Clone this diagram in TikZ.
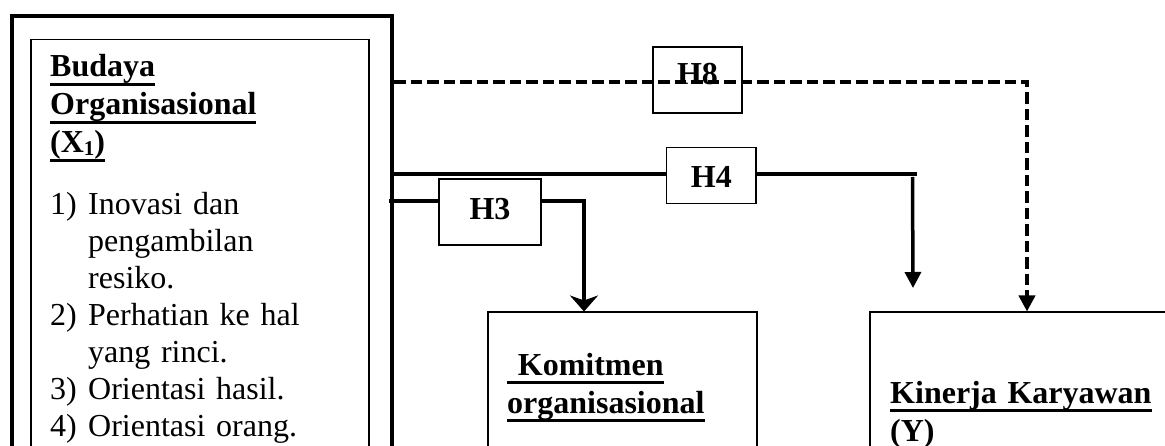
\documentclass[tikz,border=0pt]{standalone}
\usepackage{fontspec}
\setmainfont{Liberation Serif}
\usetikzlibrary{arrows.meta,calc}
\newcommand\myul[1]{\leavevmode\setbox0\hbox{#1}\rlap{\rule[-9pt]{\wd0}{3pt}}\box0}
\newcommand\mysub[1]{\raisebox{-3pt}{\fontsize{21}{21}\selectfont #1}}
\begin{document}
\begin{tikzpicture}[x=1pt,y=-1pt,
  obox/.style={draw,line width=4pt,anchor=north west,inner sep=0pt},
  ibox/.style={draw,line width=1.5pt,anchor=north west,inner sep=0pt},
  vbox/.style={draw,line width=2pt,anchor=north west,inner sep=0pt},
  hbox/.style={draw,line width=1.5pt,inner sep=0pt,font=\bfseries\fontsize{32}{38}\selectfont},
  head/.style={anchor=base west,inner sep=0pt,align=left,font=\bfseries\fontsize{32}{38}\selectfont},
  body/.style={anchor=base west,inner sep=0pt,align=left,font=\fontsize{32}{37}\selectfont},
  conn/.style={line width=3.5pt,line join=miter},
  dconn/.style={line width=3.8pt,dash pattern=on 11.5pt off 5pt,line join=miter},
  tri/.style={-{Triangle[length=16pt,width=16pt]}},
  stl/.style={-{Stealth[length=16pt,width=28pt,inset=5pt]}}
]
\useasboundingbox (0,0) rectangle (1165,446);
\clip (0,0) rectangle (1165,446);
% boxes
\node[obox,minimum width=380.5pt,minimum height=480pt] (outer) at (9.5,14) {};
\node[ibox,minimum width=338pt,minimum height=460pt] (inner) at (30,38.8) {};
\node[vbox,minimum width=269pt,minimum height=200pt] (kom) at (487,311.5) {};
\node[vbox,minimum width=400pt,minimum height=200pt] (kin) at (869,311.5) {};
% texts
\node[head,text width=300pt] (xhead) at (50,77) {\myul{Budaya}\\\myul{Organisasional}\\\myul{(X\mysub{1})}};
\node[body,text width=310pt] (xlist) at (50,215) {%
\makebox[38pt][l]{1)}Inovasi dan\\
\hspace*{38pt}pengambilan\\
\hspace*{38pt}resiko.\\
\makebox[38pt][l]{2)}Perhatian ke hal\\
\hspace*{38pt}yang rinci.\\
\makebox[38pt][l]{3)}Orientasi hasil.\\
\makebox[38pt][l]{4)}Orientasi orang.};
\node[head,text width=240pt] (komt) at (507,375) {\myul{\ Komitmen}\\\myul{organisasional}};
\node[head,text width=270pt] (kint) at (890,403) {\myul{Kinerja Karyawan}\\\myul{(Y)}};
% hypothesis boxes
\node[hbox,minimum width=102pt,minimum height=66pt,text height=21pt,text depth=5pt] (h3) at (490,212) {H3};
\node[hbox,minimum width=89.3pt,minimum height=55.6pt,text height=25pt,text depth=0pt] (h4) at (711.3,175.5) {H4};
\node[hbox,minimum width=89pt,minimum height=66pt,text height=21pt,text depth=11pt] (h8) at (697.5,80) {H8};
% connectors
\coordinate (p8) at (1027,82);
\draw[dconn,tri] (outer.east |- p8) -- (p8) -- (p8 |- kin.north);
\coordinate (y174) at (0,174);
\coordinate (p4) at (917,174);
\draw[conn] ($(outer.east |- y174)+(-3,0)$) -- (h4.west |- y174);
\draw[conn] (h4.east |- y174) -- (p4);
\coordinate (a4) at (912.5,177);
\coordinate (b4) at (913,288);
\draw[conn,tri] (a4) -- (b4);
\coordinate (y201) at (0,201);
\coordinate (p3) at (584,201);
\draw[conn] ($(outer.east |- y201)+(-5,0)$) -- (h3.west |- y201);
\draw[conn,stl] (h3.east |- y201) -- (p3) -- (p3 |- kom.north);
\end{tikzpicture}
\end{document}
